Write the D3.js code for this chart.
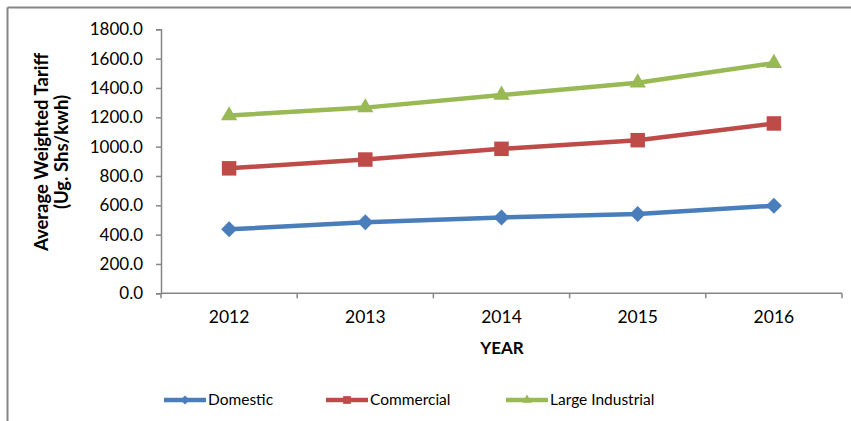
<!DOCTYPE html>
<html><head><meta charset="utf-8">
<script src="https://cdn.jsdelivr.net/npm/d3@7"></script>
<style>body{margin:0;background:#fff}svg{display:block}</style>
</head><body>
<svg id="chart" width="851" height="421"></svg>
<script>
const years = ["2012","2013","2014","2015","2016"];
const domestic = [436, 484, 517, 541, 597];
const commercial = [852, 912, 985, 1044, 1158];
const largeIndustrial = [1212, 1266, 1352, 1436, 1569];
const yTicks = [0,200,400,600,800,1000,1200,1400,1600,1800];
const seriesNames = ["Domestic","Commercial","Large Industrial"];
const seriesColors = ["#4a7ebb","#be4b48","#98b954"];
const seriesSymbols = ["diamond","square","triangle"];

const series = [domestic, commercial, largeIndustrial].map((v,i)=>({name:seriesNames[i], values:v, color:seriesColors[i], sym:seriesSymbols[i]}));

const svg = d3.select("#chart");
const font = "Lato, 'Open Sans', sans-serif";
const axisColor = "#868686";

// outer frame (top & left only visible)
svg.append("line").attr("x1",7.5).attr("x2",851).attr("y1",7.5).attr("y2",7.5).attr("stroke",axisColor).attr("stroke-width",2);
svg.append("line").attr("x1",7.5).attr("x2",7.5).attr("y1",7.5).attr("y2",421).attr("stroke",axisColor).attr("stroke-width",2);

const x = d3.scaleBand().domain(years).range([161,842]);
const y = d3.scaleLinear().domain([0,1800]).range([293.3,29.3]);

// y axis
const yAxis = svg.append("g").attr("transform","translate(161,0)")
  .call(d3.axisLeft(y).tickValues(yTicks).tickFormat(d3.format(".1f")).tickSize(5).tickPadding(4));
yAxis.select(".domain").attr("stroke",axisColor).attr("stroke-width",1.5);
yAxis.selectAll(".tick line").attr("stroke",axisColor).attr("stroke-width",1.5);
yAxis.selectAll("text").attr("font-family",font).attr("font-size",17).attr("fill","#000").attr("dx",-9);

// x axis
const xAxis = svg.append("g").attr("transform","translate(0,293.3)")
  .call(d3.axisBottom(x).tickSize(0).tickPadding(17));
xAxis.select(".domain").attr("stroke",axisColor).attr("stroke-width",1.5).attr("d","M161,0H842");
xAxis.selectAll("text").attr("font-family",font).attr("font-size",17.5).attr("fill","#000");
const bounds = years.map(d=>x(d)).concat([x.range()[1]]);
xAxis.selectAll(".bt").data(bounds).enter().append("line")
  .attr("x1",d=>d).attr("x2",d=>d).attr("y1",0).attr("y2",5)
  .attr("stroke",axisColor).attr("stroke-width",1.5);

// axis titles
svg.append("text").attr("transform","translate(48,152) rotate(-90)").attr("text-anchor","middle")
  .attr("font-family",font).attr("font-weight","bold").attr("font-size",18.5).text("Average Weighted Tariff");
svg.append("text").attr("transform","translate(68,152) rotate(-90)").attr("text-anchor","middle")
  .attr("font-family",font).attr("font-weight","bold").attr("font-size",18.5).text("(Ug. Shs/kwh)");
svg.append("text").attr("x",502).attr("y",354).attr("text-anchor","middle")
  .attr("font-family",font).attr("font-weight","bold").attr("font-size",17).text("YEAR");

const cx = d => x(d) + x.bandwidth()/2;
const markers = {
  diamond: d3.symbol().type({draw(ctx){ctx.moveTo(0,-8);ctx.lineTo(8,0);ctx.lineTo(0,8);ctx.lineTo(-8,0);ctx.closePath();}}),
  square: d3.symbol().type(d3.symbolSquare).size(210),
  triangle: d3.symbol().type(d3.symbolTriangle).size(115)
};

const line = d3.line().x((d,i)=>cx(years[i])).y(d=>y(d));
series.forEach(s=>{
  svg.append("path").attr("d",line(s.values)).attr("fill","none").attr("stroke",s.color).attr("stroke-width",4.5).attr("stroke-linejoin","round");
  svg.selectAll(null).data(s.values).enter().append("path")
    .attr("d",markers[s.sym])
    .attr("transform",(d,i)=>`translate(${cx(years[i])},${y(d)})`)
    .attr("fill",s.color);
});

// legend
const legendMarkers = {
  diamond: d3.symbol().type({draw(ctx){ctx.moveTo(0,-4.5);ctx.lineTo(4.5,0);ctx.lineTo(0,4.5);ctx.lineTo(-4.5,0);ctx.closePath();}}),
  square: d3.symbol().type(d3.symbolSquare).size(60),
  triangle: d3.symbol().type(d3.symbolTriangle).size(40)
};
const legendX = [164, 326, 506];
series.forEach((s,i)=>{
  const g = svg.append("g").attr("transform",`translate(${legendX[i]},400)`);
  g.append("line").attr("x1",0).attr("x2",42).attr("y1",0).attr("y2",0).attr("stroke",s.color).attr("stroke-width",4.5);
  g.append("path").attr("d",legendMarkers[s.sym]).attr("transform","translate(21,0)").attr("fill",s.color);
  g.append("text").attr("x",44).attr("y",0).attr("dy","0.35em").attr("font-family",font).attr("font-size",15.5).attr("fill","#000").text(s.name);
});
</script>
</body></html>
